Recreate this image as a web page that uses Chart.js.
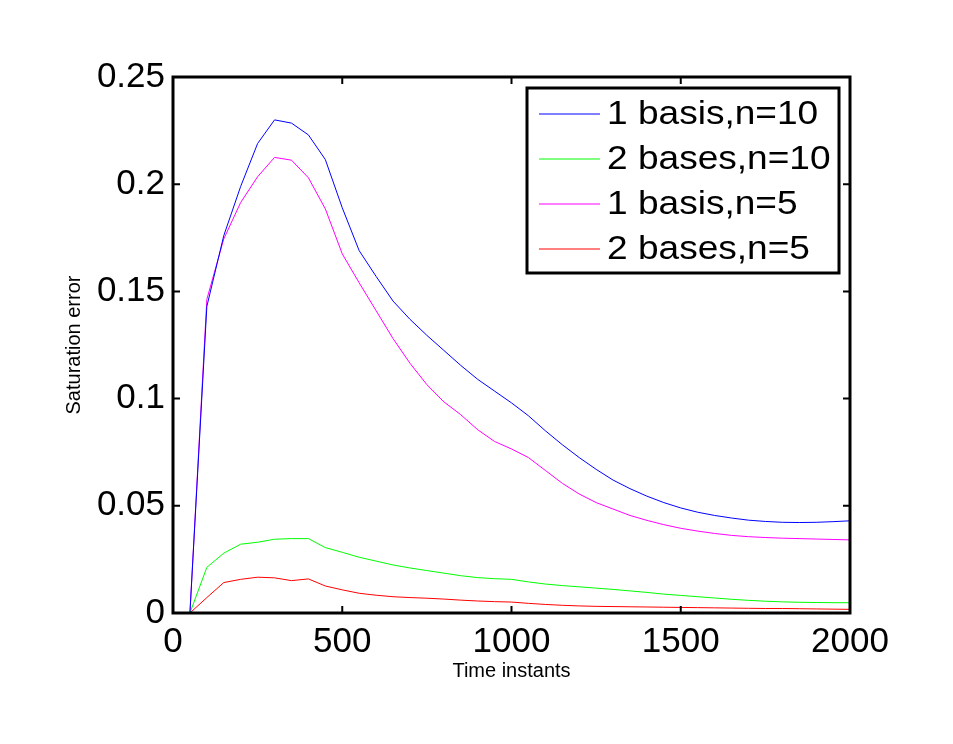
<!DOCTYPE html>
<html>
<head>
<meta charset="utf-8">
<title>Saturation error</title>
<script src="https://cdn.jsdelivr.net/npm/chart.js@4.4.0/dist/chart.umd.min.js"></script>
<style>
  html, body { margin: 0; padding: 0; background: #fff; }
  #wrap { width: 953px; height: 744px; }
</style>
</head>
<body>
<div id="wrap"><canvas id="satChart" width="953" height="744"></canvas></div>
<script>
// time instants (x) and the four error curves
const timeInstants = [50, 100, 150, 200, 250, 300, 350, 400, 450, 500,
  550, 600, 650, 700, 750, 800, 850, 900, 950, 1000,
  1050, 1100, 1150, 1200, 1250, 1300, 1350, 1400, 1450, 1500,
  1550, 1600, 1650, 1700, 1750, 1800, 1850, 1900, 1950, 2000];

const oneBasisN10 = [0, 0.143, 0.176, 0.199, 0.219, 0.230, 0.2285, 0.223, 0.2115, 0.189,
  0.169, 0.157, 0.1455, 0.137, 0.1295, 0.1225, 0.1155, 0.109, 0.1035, 0.098,
  0.092, 0.085, 0.0785, 0.0725, 0.067, 0.062, 0.058, 0.0545, 0.0515, 0.049,
  0.047, 0.0455, 0.0443, 0.0433, 0.0427, 0.0423, 0.0422, 0.0423, 0.0426, 0.043];

const twoBasesN10 = [0, 0.0213, 0.0279, 0.0321, 0.033, 0.0344, 0.0347, 0.0347, 0.0305, 0.0283,
  0.026, 0.0242, 0.0224, 0.021, 0.0198, 0.0186, 0.0174, 0.0165, 0.016, 0.0157,
  0.0145, 0.0135, 0.0128, 0.0122, 0.0116, 0.011, 0.0103, 0.0096, 0.0088, 0.0082,
  0.0076, 0.007, 0.0064, 0.0059, 0.0055, 0.0052, 0.005, 0.0049, 0.0048, 0.0048];

const oneBasisN5 = [0, 0.1463, 0.1745, 0.1915, 0.2035, 0.2125, 0.2112, 0.203, 0.1885, 0.1675,
  0.154, 0.141, 0.128, 0.1165, 0.1065, 0.0985, 0.0925, 0.0855, 0.080, 0.0765,
  0.0725, 0.0665, 0.0605, 0.0555, 0.0515, 0.0485, 0.0455, 0.0432, 0.0412, 0.0395,
  0.0382, 0.0371, 0.0362, 0.0356, 0.0352, 0.0349, 0.0347, 0.0345, 0.0343, 0.0341];

const twoBasesN5 = [0, 0.0072, 0.0142, 0.0157, 0.0167, 0.0164, 0.0151, 0.0159, 0.0126, 0.0108,
  0.0092, 0.0083, 0.0076, 0.0072, 0.0069, 0.0065, 0.006, 0.0056, 0.0053, 0.0051,
  0.0045, 0.004, 0.0036, 0.0033, 0.0031, 0.003, 0.0029, 0.0028, 0.0027, 0.0026,
  0.0025, 0.0024, 0.0023, 0.0022, 0.0021, 0.0021, 0.002, 0.0019, 0.0018, 0.0017];

const seriesNames = ['1 basis,n=10', '2 bases,n=10', '1 basis,n=5', '2 bases,n=5'];
const seriesColors = ['#0000ff', '#00ff00', '#ff00ff', '#ff0000'];
const xTickLabels = ['0', '500', '1000', '1500', '2000'];
const yTickLabels = ['0', '0.05', '0.1', '0.15', '0.2', '0.25'];

const FONT = "'Liberation Sans', Arial, Helvetica, sans-serif";

function toPoints(values) {
  return values.map(function(v, i) { return { x: timeInstants[i], y: v }; });
}

// matlab-ish box with inward ticks on all four sides
const boxAxes = {
  id: 'boxAxes',
  afterDatasetsDraw: function(chart) {
    const ctx = chart.ctx;
    const a = chart.chartArea;
    const xs = chart.scales.x, ys = chart.scales.y;
    const len = 7;
    ctx.save();
    ctx.strokeStyle = '#000';
    ctx.lineWidth = 2;
    ctx.beginPath();
    xs.ticks.forEach(function(t) {
      const px = xs.getPixelForValue(t.value);
      ctx.moveTo(px, a.bottom); ctx.lineTo(px, a.bottom - len);
      ctx.moveTo(px, a.top); ctx.lineTo(px, a.top + len);
    });
    ys.ticks.forEach(function(t) {
      const py = ys.getPixelForValue(t.value);
      ctx.moveTo(a.left, py); ctx.lineTo(a.left + len, py);
      ctx.moveTo(a.right, py); ctx.lineTo(a.right - len, py);
    });
    ctx.stroke();
    ctx.lineWidth = 3;
    ctx.strokeRect(a.left, a.top, a.right - a.left, a.bottom - a.top);
    ctx.restore();
  }
};

// legend box drawn in the upper right corner of the plot
const boxLegend = {
  id: 'boxLegend',
  afterDraw: function(chart) {
    const ctx = chart.ctx;
    const left = 527, top = 88, w = 312, h = 185;
    ctx.save();
    ctx.fillStyle = '#fff';
    ctx.fillRect(left, top, w, h);
    ctx.strokeStyle = '#000';
    ctx.lineWidth = 3;
    ctx.strokeRect(left, top, w, h);
    ctx.font = '34px ' + FONT;
    ctx.textBaseline = 'middle';
    ctx.textAlign = 'left';
    chart.data.datasets.forEach(function(ds, i) {
      const y = top + 26 + i * 45;
      ctx.strokeStyle = ds.borderColor;
      ctx.lineWidth = 1;
      ctx.beginPath();
      ctx.moveTo(539, y);
      ctx.lineTo(600, y);
      ctx.stroke();
      // the original text is a bit wider than the font, stretch it slightly
      ctx.save();
      ctx.translate(607, y + 1);
      ctx.scale(1.09, 1);
      ctx.fillStyle = '#000';
      ctx.fillText(ds.label, 0, 0);
      ctx.restore();
    });
    ctx.restore();
  }
};

const allSeries = [oneBasisN10, twoBasesN10, oneBasisN5, twoBasesN5];

const ctx = document.getElementById('satChart');
new Chart(ctx.getContext('2d'), {
  type: 'line',
  data: {
    datasets: allSeries.map(function(vals, i) {
      return {
        label: seriesNames[i],
        data: toPoints(vals),
        borderColor: seriesColors[i],
        backgroundColor: seriesColors[i],
        borderWidth: 1,
        pointRadius: 0,
        tension: 0,
        fill: false
      };
    })
  },
  options: {
    responsive: false,
    animation: false,
    layout: { padding: { left: 0, right: 103, top: 77, bottom: 0 } },
    plugins: {
      legend: { display: false },
      tooltip: { enabled: false }
    },
    scales: {
      x: {
        type: 'linear',
        min: 0,
        max: 2000,
        grid: { display: false, drawTicks: false },
        border: { display: false },
        ticks: {
          stepSize: 500,
          color: '#000',
          padding: 8,
          maxRotation: 0,
          font: { family: FONT, size: 35 },
          callback: function(v) { return xTickLabels[Math.round(v / 500)]; }
        },
        title: {
          display: true,
          text: 'Time instants',
          color: '#000',
          font: { family: FONT, size: 20 },
          padding: { top: 0, bottom: 61 }
        },
        afterFit: function(scale) { scale.height = 131; }
      },
      y: {
        type: 'linear',
        min: 0,
        max: 0.25,
        grid: { display: false, drawTicks: false },
        border: { display: false },
        ticks: {
          stepSize: 0.05,
          color: '#000',
          padding: 8,
          font: { family: FONT, size: 35 },
          callback: function(v) { return yTickLabels[Math.round(v / 0.05)]; }
        },
        title: {
          display: true,
          text: 'Saturation error',
          color: '#000',
          font: { family: FONT, size: 20 },
          padding: { top: 62, bottom: 0 }
        },
        afterFit: function(scale) { scale.width = 173; }
      }
    }
  },
  plugins: [boxAxes, boxLegend]
});
</script>
</body>
</html>
